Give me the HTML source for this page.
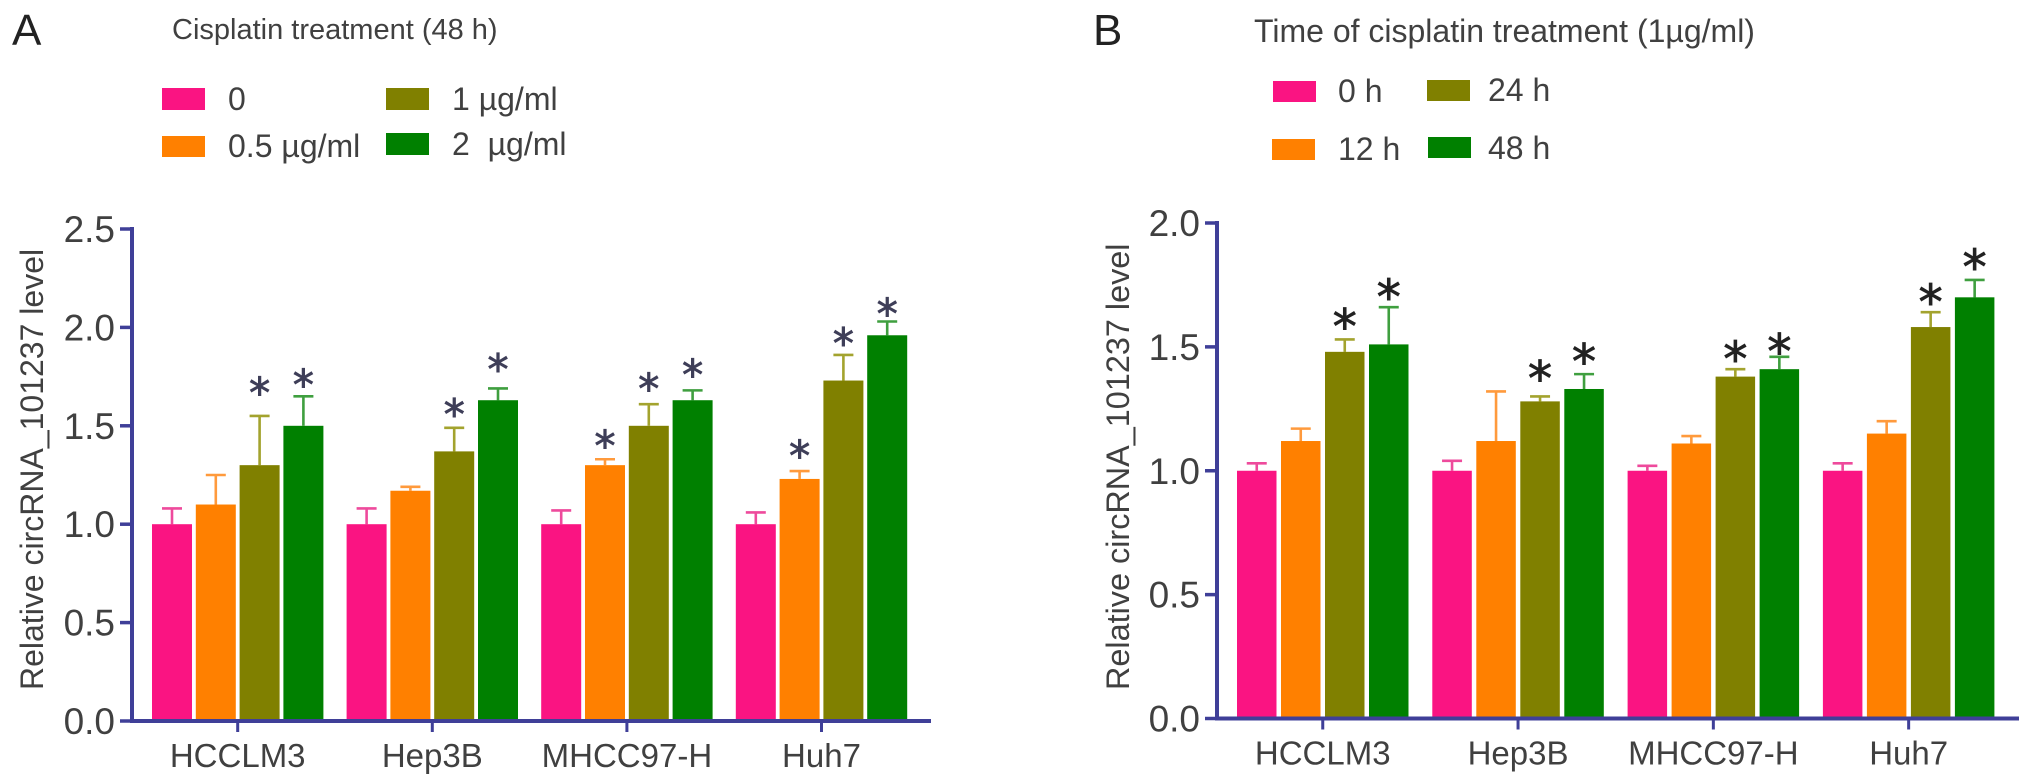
<!DOCTYPE html>
<html lang="en">
<head>
<meta charset="utf-8">
<title>circRNA_101237 level after cisplatin treatment</title>
<style>
html,body{margin:0;padding:0;background:#fff;}
svg{display:block;}
text{font-family:"Liberation Sans",Arial,sans-serif;fill:#404040;}
.star{font-family:"DejaVu Sans",sans-serif;}
</style>
</head>
<body>
<svg id="figure" xmlns="http://www.w3.org/2000/svg" width="2031" height="783" viewBox="0 0 2031 783">
  <rect width="2031" height="783" fill="#fff"/>

  <text x="12" y="45" font-size="44" style="fill:#222">A</text>
  <text x="172" y="39" font-size="29">Cisplatin treatment (48 h)</text>
  <rect x="162" y="88" width="43" height="22" fill="#fa1482"/>
  <text x="228" y="110" font-size="32">0</text>
  <rect x="162" y="136" width="43" height="21" fill="#ff8000"/>
  <text x="228" y="157" font-size="32">0.5 µg/ml</text>
  <rect x="386" y="88" width="43" height="22" fill="#808000"/>
  <text x="452" y="110" font-size="32">1 µg/ml</text>
  <rect x="386" y="133" width="43" height="22" fill="#008000"/>
  <text x="452" y="155" font-size="32" xml:space="preserve">2  µg/ml</text>
  <text transform="translate(43,690) rotate(-90)" font-size="32">Relative circRNA_101237 level</text>

  <text x="1093" y="45" font-size="44" style="fill:#222">B</text>
  <text x="1254" y="42" font-size="32">Time of cisplatin treatment (1µg/ml)</text>
  <rect x="1273" y="81" width="43" height="21" fill="#fa1482"/>
  <text x="1338" y="102" font-size="32">0 h</text>
  <rect x="1272" y="139" width="43" height="21" fill="#ff8000"/>
  <text x="1338" y="160" font-size="32">12 h</text>
  <rect x="1427" y="80" width="43" height="21" fill="#808000"/>
  <text x="1488" y="101" font-size="32">24 h</text>
  <rect x="1428" y="137" width="43" height="21" fill="#008000"/>
  <text x="1488" y="159" font-size="32">48 h</text>
  <text transform="translate(1129,690) rotate(-90)" font-size="32.4">Relative circRNA_101237 level</text>

  <g id="panel-a"></g>
  <g id="panel-b"></g>
</svg>

<script>
// Shared
const cellLines = ["HCCLM3", "Hep3B", "MHCC97-H", "Huh7"];
const barColors = ["#fa1482", "#ff8000", "#808000", "#008000"];
const errorColors = ["#ee4a9c", "#ff9a3c", "#a3a32e", "#3f9f3f"];

// Panel A: dose series (one value per cell line)
const aTicks = [0, 0.5, 1, 1.5, 2, 2.5];
const aDose0 = [1.0, 1.0, 1.0, 1.0];
const aDose05 = [1.1, 1.17, 1.3, 1.23];
const aDose1 = [1.3, 1.37, 1.5, 1.73];
const aDose2 = [1.5, 1.63, 1.63, 1.96];
const aDose0Upper = [1.08, 1.08, 1.07, 1.06];
const aDose05Upper = [1.25, 1.19, 1.33, 1.27];
const aDose1Upper = [1.55, 1.49, 1.61, 1.86];
const aDose2Upper = [1.65, 1.69, 1.68, 2.03];
const aDose0Star = [null, null, null, null];
const aDose05Star = [null, null, 1.43, 1.38];
const aDose1Star = [1.70, 1.59, 1.72, 1.95];
const aDose2Star = [1.74, 1.82, 1.79, 2.10];

// Panel B: time series (one value per cell line)
const bTicks = [0, 0.5, 1, 1.5, 2];
const bTime0 = [1.0, 1.0, 1.0, 1.0];
const bTime12 = [1.12, 1.12, 1.11, 1.15];
const bTime24 = [1.48, 1.28, 1.38, 1.58];
const bTime48 = [1.51, 1.33, 1.41, 1.70];
const bTime0Upper = [1.03, 1.04, 1.02, 1.03];
const bTime12Upper = [1.17, 1.32, 1.14, 1.20];
const bTime24Upper = [1.53, 1.30, 1.41, 1.64];
const bTime48Upper = [1.66, 1.39, 1.46, 1.77];
const bTime0Star = [null, null, null, null];
const bTime12Star = [null, null, null, null];
const bTime24Star = [1.61, 1.40, 1.48, 1.71];
const bTime48Star = [1.73, 1.47, 1.51, 1.85];

const SVG_NS = "http://www.w3.org/2000/svg";

function make(parent, tag, attrs) {
  const el = document.createElementNS(SVG_NS, tag);
  for (const k in attrs) el.setAttribute(k, attrs[k]);
  parent.appendChild(el);
  return el;
}

function drawPanel(root, geo, ticks, values, uppers, stars) {
  const maxTick = ticks[ticks.length - 1];
  const y = v => geo.zeroY - (v / maxTick) * (geo.zeroY - geo.topY);
  const groupLeft = g => geo.firstBar + g * geo.groupPitch;
  const barLeft = (g, s) => groupLeft(g) + s * geo.barPitch;
  const groupCenter = g => groupLeft(g) + (3 * geo.barPitch + geo.barWidth) / 2;

  // Bars, error bars and significance stars
  values.forEach((series, s) => {
    series.forEach((v, g) => {
      const x = barLeft(g, s);
      const cx = x + geo.barWidth / 2;

      const err = make(root, "path", {
        d: "M" + cx + " " + y(v) + "V" + y(uppers[s][g]) + "M" + (cx - 10) + " " + y(uppers[s][g]) + "H" + (cx + 10),
        fill: "none", stroke: errorColors[s], "stroke-width": 2.6
      });
      
      

      const bar = make(root, "rect", {
        x: x, y: y(v), width: geo.barWidth, height: geo.zeroY - y(v), fill: barColors[s]
      });
      
      

      if (stars[s][g] !== null) {
        const star = make(root, "text", {
          x: cx, y: y(stars[s][g]) + geo.starSize * 0.5, "font-size": geo.starSize,
          "text-anchor": "middle", "class": "star",
          style: "fill:" + geo.starColor + ";stroke:" + geo.starColor + ";stroke-width:0.9"
        });
        star.textContent = "*";
        
        
      }
    });
  });

  const axisColor = "#3f3f98";

  // Y axis
  const yAxis = make(root, "line", {
    x1: geo.axisX, x2: geo.axisX, y1: y(maxTick) - 2, y2: geo.zeroY + 2, stroke: axisColor, "stroke-width": 4
  });
  
  

  ticks.forEach(t => {
    const tick = make(root, "line", {
      x1: geo.axisX - 12, x2: geo.axisX, y1: y(t), y2: y(t), stroke: axisColor, "stroke-width": 3.5
    });
    
    

    const label = make(root, "text", {
      x: geo.axisX - 17, y: y(t) + 13, "font-size": 37, "text-anchor": "end"
    });
    label.textContent = t.toFixed(1);
    
    
  });

  // X axis
  const xAxis = make(root, "line", {
    x1: geo.axisX, x2: geo.axisEnd, y1: geo.zeroY, y2: geo.zeroY, stroke: axisColor, "stroke-width": 4
  });
  
  

  cellLines.forEach((name, g) => {
    const tick = make(root, "line", {
      x1: groupCenter(g), x2: groupCenter(g), y1: geo.zeroY, y2: geo.zeroY + 11, stroke: axisColor, "stroke-width": 3
    });
    
    

    const label = make(root, "text", {
      x: groupCenter(g), y: geo.zeroY + 46, "font-size": 33, "text-anchor": "middle"
    });
    label.textContent = name;
    
    
  });
}

drawPanel(
  document.getElementById("panel-a"),
  { axisX: 132, axisEnd: 931, zeroY: 721, topY: 229, firstBar: 152, groupPitch: 194.6, barPitch: 43.8, barWidth: 40, starSize: 42, starColor: "#3e3e58" },
  aTicks,
  [aDose0, aDose05, aDose1, aDose2],
  [aDose0Upper, aDose05Upper, aDose1Upper, aDose2Upper],
  [aDose0Star, aDose05Star, aDose1Star, aDose2Star]
);

drawPanel(
  document.getElementById("panel-b"),
  { axisX: 1217, axisEnd: 2019, zeroY: 718.5, topY: 223, firstBar: 1237, groupPitch: 195.3, barPitch: 44, barWidth: 39.5, starSize: 48, starColor: "#222222" },
  bTicks,
  [bTime0, bTime12, bTime24, bTime48],
  [bTime0Upper, bTime12Upper, bTime24Upper, bTime48Upper],
  [bTime0Star, bTime12Star, bTime24Star, bTime48Star]
);
</script>
</body>
</html>
